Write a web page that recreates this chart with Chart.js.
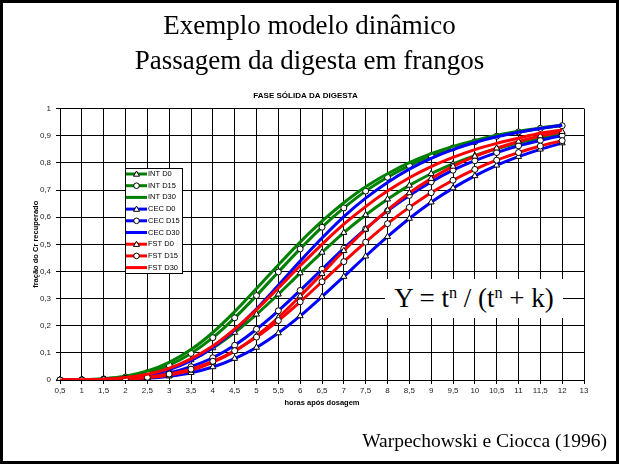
<!DOCTYPE html>
<html>
<head>
<meta charset="utf-8">
<script src="https://cdn.jsdelivr.net/npm/chart.js@4/dist/chart.umd.min.js"></script>
<style>
  html, body { margin: 0; padding: 0; background: #fff; }
  #slide { position: relative; width: 619px; height: 464px; overflow: hidden; background: #fff; }
  #frame { position: absolute; left: 0; top: 0; width: 619px; height: 464px; box-sizing: border-box; border: 3px solid #000; pointer-events: none; }
  canvas { position: absolute; left: 0; top: 0; }
  .serif { position: absolute; font-family: 'Liberation Serif', 'Times New Roman', serif; color: #000; line-height: 1; white-space: nowrap; }
  .head { left: 0; width: 619px; text-align: center; font-size: 27px; }
  #formula { left: 385px; top: 279px; width: 178px; height: 39px; background: #fff; font-size: 27px; text-align: center; line-height: 39px; }
  #formula sup { font-size: 60%; vertical-align: 0; position: relative; top: -0.55em; }
  #ref { right: 12px; top: 431px; font-size: 19.5px; }
</style>
</head>
<body>
<div id="slide">
  <canvas id="chart" width="619" height="464"></canvas>
  <div class="serif head" style="top:12px">Exemplo modelo dinâmico</div>
  <div class="serif head" style="top:47px">Passagem da digesta em frangos</div>
  <div class="serif" id="formula">Y = t<sup>n</sup> / (t<sup>n</sup> + k)</div>
  <div class="serif" id="ref">Warpechowski e Ciocca (1996)</div>
  <div id="frame"></div>
</div>
<script>
// horas após dosagem (o eixo vai até 13, sem leitura nesse ponto)
const hours = ['0,5', '1', '1,5', '2', '2,5', '3', '3,5', '4', '4,5', '5', '5,5', '6', '6,5',
               '7', '7,5', '8', '8,5', '9', '9,5', '10', '10,5', '11', '11,5', '12', '13'];

// fração do Cr recuperado, por segmento e dia
const intD0  = [0.000, 0.001, 0.003, 0.009, 0.021, 0.042, 0.074, 0.118, 0.175, 0.242, 0.316, 0.394, 0.470, 0.543, 0.608, 0.666, 0.717, 0.760, 0.796, 0.827, 0.852, 0.874, 0.892, 0.907];
const intD15 = [0.000, 0.001, 0.004, 0.011, 0.027, 0.055, 0.098, 0.156, 0.229, 0.311, 0.398, 0.483, 0.563, 0.634, 0.696, 0.747, 0.790, 0.826, 0.855, 0.878, 0.898, 0.914, 0.927, 0.937];
const intD30 = [0.000, 0.001, 0.005, 0.014, 0.033, 0.065, 0.112, 0.175, 0.252, 0.337, 0.424, 0.508, 0.585, 0.653, 0.712, 0.760, 0.801, 0.834, 0.861, 0.883, 0.902, 0.917, 0.929, 0.939];
const cecD0  = [0.000, 0.000, 0.001, 0.002, 0.006, 0.014, 0.027, 0.048, 0.079, 0.120, 0.173, 0.236, 0.307, 0.381, 0.456, 0.528, 0.595, 0.655, 0.707, 0.752, 0.791, 0.823, 0.850, 0.873];
const cecD15 = [0.000, 0.000, 0.001, 0.005, 0.012, 0.026, 0.049, 0.082, 0.128, 0.187, 0.255, 0.330, 0.408, 0.485, 0.557, 0.623, 0.680, 0.730, 0.773, 0.808, 0.838, 0.863, 0.883, 0.901];
const cecD30 = [0.000, 0.000, 0.002, 0.007, 0.018, 0.038, 0.071, 0.120, 0.184, 0.262, 0.349, 0.438, 0.523, 0.602, 0.670, 0.728, 0.777, 0.817, 0.849, 0.875, 0.896, 0.913, 0.927, 0.939];
const fstD0  = [0.000, 0.000, 0.001, 0.003, 0.008, 0.018, 0.036, 0.065, 0.106, 0.162, 0.230, 0.309, 0.392, 0.476, 0.555, 0.626, 0.689, 0.742, 0.787, 0.824, 0.854, 0.879, 0.899, 0.915];
const fstD15 = [0.000, 0.000, 0.001, 0.004, 0.010, 0.022, 0.040, 0.069, 0.108, 0.158, 0.219, 0.288, 0.362, 0.436, 0.508, 0.576, 0.636, 0.690, 0.736, 0.776, 0.810, 0.838, 0.862, 0.882];
const fstD30 = [0.000, 0.001, 0.003, 0.009, 0.021, 0.043, 0.078, 0.125, 0.187, 0.259, 0.339, 0.421, 0.500, 0.574, 0.639, 0.696, 0.745, 0.786, 0.820, 0.849, 0.872, 0.891, 0.909, 0.921];

const seriesNames = ['INT D0', 'INT D15', 'INT D30', 'CEC D0', 'CEC D15', 'CEC D30', 'FST D0', 'FST D15', 'FST D30'];
const seriesData  = [intD0, intD15, intD30, cecD0, cecD15, cecD30, fstD0, fstD15, fstD30];
const seriesColors = ['#008000', '#008000', '#008000', '#0000ff', '#0000ff', '#0000ff', '#ff0000', '#ff0000', '#ff0000'];
const seriesMarkers = ['triangle', 'circle', false, 'triangle', 'circle', false, 'triangle', 'circle', false];

const SANS = "'Liberation Sans', Arial, sans-serif";

const datasets = seriesNames.map((name, i) => ({
  label: name,
  data: seriesData[i],
  borderColor: seriesColors[i],
  borderWidth: 3,
  cubicInterpolationMode: 'monotone',
  fill: false,
  pointStyle: seriesMarkers[i] || 'circle',
  pointRadius: seriesMarkers[i] === 'triangle' ? 3.5 : (seriesMarkers[i] ? 3 : 0),
  pointBackgroundColor: '#fff',
  pointBorderColor: '#000',
  pointBorderWidth: 1,
  order: seriesNames.length - 1 - i,
}));

// legenda desenhada dentro da área do gráfico
const boxLegend = {
  id: 'boxLegend',
  afterDraw(chart) {
    const ctx = chart.ctx;
    const x0 = 125, y0 = 168, w = 57, h = 105, row = 11.7;
    ctx.save();
    ctx.fillStyle = '#fff';
    ctx.fillRect(x0, y0, w, h);
    ctx.strokeStyle = '#000';
    ctx.lineWidth = 1;
    ctx.strokeRect(x0 + 0.5, y0 + 0.5, w, h);
    ctx.font = '7.5px ' + SANS;
    ctx.textBaseline = 'middle';
    seriesNames.forEach((name, i) => {
      const y = y0 + 6 + i * row;
      ctx.strokeStyle = seriesColors[i];
      ctx.lineWidth = 3;
      ctx.beginPath();
      ctx.moveTo(x0 + 1, y);
      ctx.lineTo(x0 + 22, y);
      ctx.stroke();
      const mx = x0 + 11.5;
      if (seriesMarkers[i]) {
        ctx.fillStyle = '#fff';
        ctx.strokeStyle = '#000';
        ctx.lineWidth = 1;
        ctx.beginPath();
        if (seriesMarkers[i] === 'circle') {
          ctx.arc(mx, y, 2.8, 0, Math.PI * 2);
        } else {
          ctx.moveTo(mx, y - 3);
          ctx.lineTo(mx + 3, y + 2.2);
          ctx.lineTo(mx - 3, y + 2.2);
          ctx.closePath();
        }
        ctx.fill();
        ctx.stroke();
      }
      ctx.fillStyle = '#000';
      ctx.fillText(name, x0 + 23, y);
    });
    ctx.restore();
  }
};

new Chart(document.getElementById('chart'), {
  type: 'line',
  data: { labels: hours, datasets },
  options: {
    responsive: false,
    animation: false,
    layout: { padding: { top: 91, left: 27, right: 35, bottom: 54 } },
    plugins: {
      legend: { display: false },
      tooltip: { enabled: false },
      title: {
        display: true,
        text: 'FASE SÓLIDA DA DIGESTA',
        color: '#000',
        font: { family: SANS, size: 8, weight: 'bold' },
        padding: { top: 0, bottom: 8 },
      },
    },
    scales: {
      x: {
        type: 'category',
        offset: false,
        afterFit: s => { s.height = 30; },
        grid: { color: '#000', lineWidth: 1, tickLength: 4, offset: false },
        border: { color: '#000' },
        ticks: { color: '#222', font: { family: SANS, size: 8 }, padding: 2, autoSkip: false, maxRotation: 0 },
        title: {
          display: true,
          text: 'horas após dosagem',
          color: '#000',
          font: { family: SANS, size: 7.5, weight: 'bold' },
          padding: { top: 0, bottom: 2.5 },
        },
      },
      y: {
        min: 0,
        max: 1,
        afterFit: s => { s.width = 33; },
        grid: { color: '#000', lineWidth: 1, tickLength: 4 },
        border: { color: '#000' },
        ticks: {
          stepSize: 0.1,
          padding: 5,
          color: '#222',
          font: { family: SANS, size: 8 },
          callback: v => String(Math.round(v * 10) / 10).replace('.', ','),
        },
        title: {
          display: true,
          text: 'fração do Cr recuperado',
          color: '#000',
          font: { family: SANS, size: 7.5, weight: 'bold' },
          padding: { top: 4, bottom: 0 },
        },
      },
    },
  },
  plugins: [boxLegend],
});
</script>
</body>
</html>
